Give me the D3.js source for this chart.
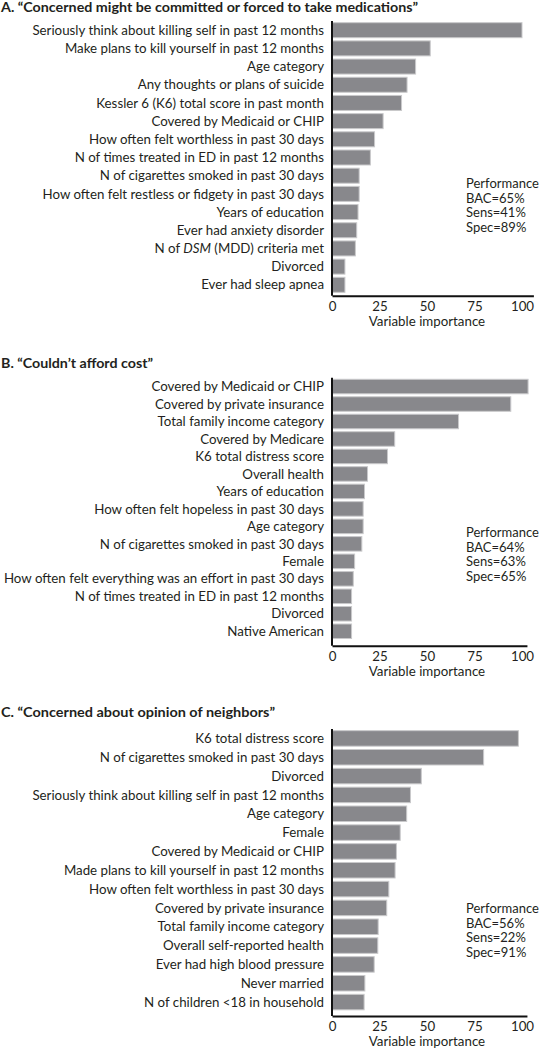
<!DOCTYPE html>
<html><head><meta charset="utf-8">
<script src="https://cdn.jsdelivr.net/npm/d3@7"></script>
<style>
html,body{margin:0;padding:0;background:#fff;}
svg{display:block;}
text{font-family:Lato, "Open Sans", sans-serif;fill:#231f20;}
</style></head>
<body>
<svg id="chart" width="540" height="1050"></svg>
<script>
// ---- data ----
const titleA = "A. \u201cConcerned might be committed or forced to take medications\u201d";
const labelsA = ["Seriously think about killing self in past 12 months","Make plans to kill yourself in past 12 months","Age category","Any thoughts or plans of suicide","Kessler 6 (K6) total score in past month","Covered by Medicaid or CHIP","How often felt worthless in past 30 days","N of times treated in ED in past 12 months","N of cigarettes smoked in past 30 days","How often felt restless or fidgety in past 30 days","Years of education","Ever had anxiety disorder","N of |DSM| (MDD) criteria met","Divorced","Ever had sleep apnea"];
const valuesA = [100,51.7,44.0,39.5,36.6,26.9,22.4,20.2,14.3,14.3,13.7,13.0,12.3,6.8,6.8];
const perfA = ["Performance","BAC=65%","Sens=41%","Spec=89%"];

const titleB = "B. \u201cCouldn\u2019t afford cost\u201d";
const labelsB = ["Covered by Medicaid or CHIP","Covered by private insurance","Total family income category","Covered by Medicare","K6 total distress score","Overall health","Years of education","How often felt hopeless in past 30 days","Age category","N of cigarettes smoked in past 30 days","Female","How often felt everything was an effort in past 30 days","N of times treated in ED in past 12 months","Divorced","Native American"];
const valuesB = [103.2,94.1,66.6,33.0,29.2,18.7,17.1,16.4,16.4,15.7,11.9,11.2,10.3,10.3,10.3];
const perfB = ["Performance","BAC=64%","Sens=63%","Spec=65%"];

const titleC = "C. \u201cConcerned about opinion of neighbors\u201d";
const labelsC = ["K6 total distress score","N of cigarettes smoked in past 30 days","Divorced","Seriously think about killing self in past 12 months","Age category","Female","Covered by Medicaid or CHIP","Made plans to kill yourself in past 12 months","How often felt worthless in past 30 days","Covered by private insurance","Total family income category","Overall self-reported health","Ever had high blood pressure","Never married","N of children <18 in household"];
const valuesC = [98.1,79.8,47.0,41.3,39.3,35.9,33.9,33.2,29.9,28.8,24.3,24.1,22.2,17.3,16.9];
const perfC = ["Performance","BAC=56%","Sens=22%","Spec=91%"];

const tickValues = [0,25,50,75,100];
const axisTitle = "Variable importance";
const axisMaxA = 106, axisMaxB = 102.6, axisMaxC = 102.6;

// ---- layout ----
const panels = [
  {title:titleA, labels:labelsA, values:valuesA, perf:perfA, axisMax:axisMaxA, titleW:417,
   titleY:12, y0:21.1, y1:293.9, pad:0.175, axisY:295.7, perfY:188},
  {title:titleB, labels:labelsB, values:valuesB, perf:perfB, axisMax:axisMaxB, titleW:152,
   titleY:368, y0:377.8, y1:640, pad:0.17, axisY:645.7, perfY:537},
  {title:titleC, labels:labelsC, values:valuesC, perf:perfC, axisMax:axisMaxC, titleW:274,
   titleY:717, y0:729.0, y1:1011.5, pad:0.177, axisY:1016, perfY:913}
];

const svg = d3.select("#chart");
const x = d3.scaleLinear().domain([0,100]).range([332,522]);
const fs = 13.3;

panels.forEach(p => {
  const g = svg.append("g");
  g.append("text").attr("x",1).attr("y",p.titleY)
    .attr("font-size",13.2).attr("font-weight","bold")
    .attr("textLength",p.titleW).attr("lengthAdjust","spacingAndGlyphs")
    .text(p.title);

  const y = d3.scaleBand().domain(p.labels).range([p.y0,p.y1])
    .paddingInner(p.pad).paddingOuter(p.pad/2);

  g.selectAll("rect.bar").data(p.labels).join("rect").attr("class","bar")
    .attr("x", x(0)+0.5)
    .attr("y", d => y(d))
    .attr("width", (d,i) => x(p.values[i]) - x(0) - 0.5)
    .attr("height", y.bandwidth())
    .attr("fill","#88888c").attr("stroke","#c9c9cb").attr("stroke-width",1);

  const lab = g.selectAll("text.lab").data(p.labels).join("text").attr("class","lab")
    .attr("x", 324).attr("y", d => y(d)+y.bandwidth()/2)
    .attr("dy","0.35em").attr("text-anchor","end").attr("font-size",fs);
  lab.each(function(d){
    const parts = d.split("|");
    const t = d3.select(this);
    parts.forEach((s,k)=>{ t.append("tspan").attr("font-style", k%2===1?"italic":"normal").text(s); });
  });

  g.append("line").attr("x1",x(0)).attr("x2",x(0))
    .attr("y1",p.y0).attr("y2",p.axisY).attr("stroke","#111").attr("stroke-width",2);

  const ax = d3.axisBottom(d3.scaleLinear().domain([0,p.axisMax]).range([x(0), x(p.axisMax)]))
    .tickValues(tickValues).tickSize(0).tickPadding(6);
  const axg = g.append("g").attr("transform",`translate(0,${p.axisY})`).call(ax);
  axg.select(".domain").attr("stroke","#111").attr("stroke-width",2);
  axg.selectAll(".tick text").attr("font-size",fs).attr("font-family","Lato, sans-serif").attr("fill","#231f20");

  g.append("text").attr("x", x(50)).attr("y", p.axisY+30)
    .attr("text-anchor","middle").attr("font-size",fs).text(axisTitle);

  g.selectAll("text.perf").data(p.perf).join("text").attr("class","perf")
    .attr("x",466).attr("y",(d,i)=>p.perfY + i*14.7).attr("font-size",13).text(d=>d);
});
</script>
</body></html>
